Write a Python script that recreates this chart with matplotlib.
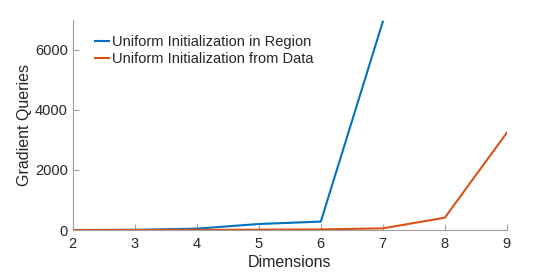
import matplotlib
matplotlib.use('Agg')
import matplotlib.pyplot as plt

plt.rcParams['font.family'] = ['Liberation Sans', 'DejaVu Sans']

dims = [2, 3, 4, 5, 6, 7, 8, 9]
region = [0, 5, 45, 200, 280, 6940]
data = [0, 2, 5, 10, 20, 55, 410, 3240]

fig = plt.figure(figsize=(5.6, 2.73), dpi=100)
ax = fig.add_axes([0.130, 0.1575, 0.775, 0.7695])
ax.plot(dims[:len(region)], region, color='#0072BD', lw=1.5, label='Uniform Initialization in Region')
ax.plot(dims, data, color='#D95319', lw=1.5, label='Uniform Initialization from Data')
ax.set_xlim(2, 9)
ax.set_ylim(0, 7000)
ax.set_xticks(dims)
ax.set_yticks([0, 2000, 4000, 6000])
for s in ['top', 'right']:
    ax.spines[s].set_visible(False)
for s in ['left', 'bottom']:
    ax.spines[s].set_color('#a0a0a0')
    ax.spines[s].set_linewidth(0.8)
ax.tick_params(direction='in', length=4, color='#a0a0a0', labelsize=10.5, labelcolor='#262626')
ax.tick_params(axis='x', pad=5)
ax.set_xlabel('Dimensions', fontsize=11.5, color='#262626', labelpad=3)
ax.set_ylabel('Gradient Queries', fontsize=11.5, color='#262626', labelpad=2)
leg = ax.legend(loc='upper left', frameon=False, fontsize=10.5, handlelength=1.0, handletextpad=0.2,
                labelspacing=0.2, bbox_to_anchor=(0.02, 0.99))
for t in leg.get_texts():
    t.set_color('#262626')
fig.savefig('out.png', dpi=100)
